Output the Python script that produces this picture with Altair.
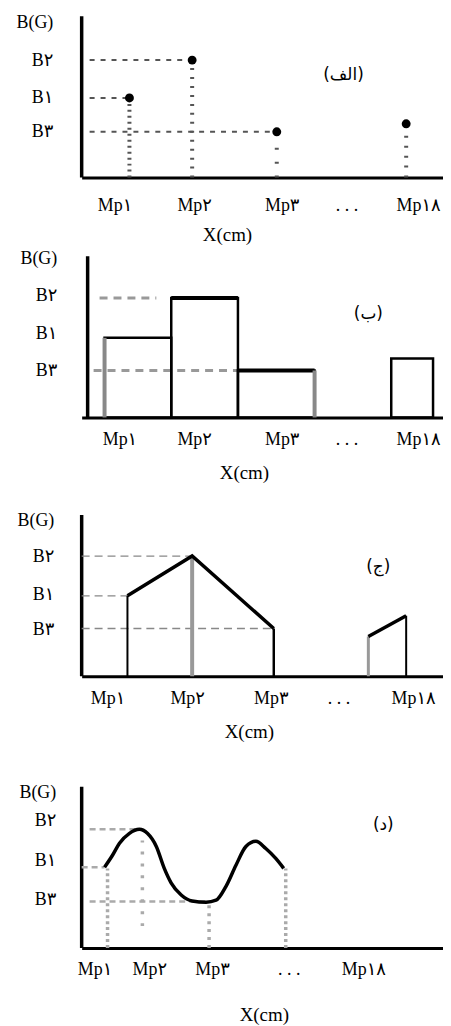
import json
import altair as alt
import pandas as pd

# ---------------- data ----------------
W = 363            # plot width (px)
PX = 10.0          # px per x unit
PY = 40.0          # px per y unit
XMAX = W / PX
heights = [168, 241, 260, 273]   # strip height of each panel (px)
AXIS_TOP = 4.05

FONT = "Liberation Serif, Times New Roman, DejaVu Sans, serif"
AFONT = "DejaVu Sans, Noto Sans, sans-serif"

y_tick_labels = ["B۳", "B۱", "B۲", "B(G)"]
y_tick_vals = [
    [1.15, 2.0, 2.95, 3.9],
    [1.18, 2.12, 3.05, 4.0],
    [1.18, 2.05, 3.0, 3.92],
    [1.22, 2.2, 3.2, 3.9],
]
y_label_pad = [29, 25, 28, 26]
x_tick_labels = ["Mp۱", "Mp۲", "Mp۳", ". . .", "Mp۱۸"]
x_tick_vals = [
    [3.3, 11.3, 20.1, 26.6, 33.8],
    [3.8, 11.3, 20.1, 26.6, 33.8],
    [2.6, 10.6, 19.0, 25.8, 33.3],
    [1.3, 6.8, 13.1, 20.8, 28.3],
]
x_label_pad = [19, 13, 13, 13]
x_title_x = [146, 163, 168, 183]
x_title_y = [57, 55, 56, 67]
yaxis_x = [0.0, 0.6, 0.0, 0.0]

panel_names = ["(الف)", "(ب)", "(ج)", "(د)"]
panel_name_x = [26.3, 28.8, 29.8, 30.3]
panel_name_y = [2.58, 2.6, 2.75, 3.1]

# panel 1 (الف): point measurements
p1_x = [4.8, 11.1, 19.6, 32.6]
p1_y = [2.0, 2.95, 1.15, 1.35]
p1_guide_from = [0.8, 0.8, 0.8]          # dashed guides for Mp1..Mp3
p1_dash = [[2, 4], [2, 7], [2, 12], [2, 8]]

# panel 2 (ب): bars
p2_x0 = [2.3, 9.0, 15.7, 31.1]
p2_x1 = [9.0, 15.7, 23.4, 35.3]
p2_top = [2.0, 3.0, 1.18, 1.48]
p2_guide_y = [3.0, 1.18]
p2_guide_x0 = [1.8, 1.2]
p2_guide_x1 = [7.5, 15.7]

# panel 3 (ج): polyline segments
p3_seg = [0, 0, 0, 1, 1]
p3_x = [4.6, 11.1, 19.3, 28.8, 32.6]
p3_y = [2.02, 3.02, 1.2, 1.0, 1.52]
p3_vcolor = ["black", "#999999", "black", "#999999", "black"]
p3_vwidth = [2, 4, 2.5, 3, 2]
p3_guide_y = [3.02, 2.02, 1.2]
p3_guide_x1 = [11.1, 4.6, 19.3]

# panel 4 (د): smooth curve
p4_x = [2.3, 3.1, 3.8, 4.8, 5.8, 6.6, 7.5, 8.3, 9.0, 10.0, 11.1, 12.5, 13.5,
        14.5, 15.5, 16.5, 17.5, 18.5, 19.5, 20.3]
p4_y = [2.03, 2.33, 2.63, 2.88, 2.98, 2.88, 2.55, 2.0, 1.63, 1.33, 1.18, 1.15,
        1.2, 1.55, 2.08, 2.55, 2.68, 2.5, 2.25, 2.0]
p4_guide_y = [2.98, 2.03, 1.17]
p4_guide_x0 = [0.8, 0.0, 0.8]
p4_guide_x1 = [5.8, 2.3, 12.8]
p4_vx = [2.6, 6.1, 12.8, 20.5]
p4_vy0 = [0.0, 0.55, 0.0, 0.0]
p4_vy1 = [2.0, 2.7, 1.15, 2.0]
p4_vdash = [[3, 3], [3, 9], [3, 5], [3, 3]]


def js(arr):
    return json.dumps(arr, ensure_ascii=False)


def xaxis(i):
    return alt.Axis(
        values=x_tick_vals[i],
        labelExpr=f"{js(x_tick_labels)}[indexof({js(x_tick_vals[i])}, datum.value)]",
        domain=True, domainColor="black", domainWidth=3,
        grid=False, ticks=False, tickSize=0,
        labelPadding=x_label_pad[i], labelFont=FONT, labelFontSize=18,
        labelColor="black", labelFlush=False, labelOverlap=False,
        title="X(cm)", titleFont=FONT, titleFontSize=19, titleFontWeight="normal",
        titleColor="black", titleX=x_title_x[i], titleY=x_title_y[i],
        titleBaseline="middle", titleAlign="center",
    )


def yaxis(i):
    return alt.Axis(
        values=y_tick_vals[i],
        labelExpr=f"{js(y_tick_labels)}[indexof({js(y_tick_vals[i])}, datum.value)]",
        domain=False, grid=False, ticks=False, tickSize=0,
        labelPadding=y_label_pad[i], labelFont=FONT, labelFontSize=18,
        labelColor="black", labelFlush=False, labelOverlap=False,
        labelAlign="right", labelBaseline="middle", title=None,
    )


def X(field, i):
    return alt.X(field, type="quantitative",
                 scale=alt.Scale(domain=[0, XMAX], nice=False, zero=False),
                 axis=xaxis(i))


def Y(field, i):
    return alt.Y(field, type="quantitative",
                 scale=alt.Scale(domain=[0, heights[i] / PY], nice=False, zero=False),
                 axis=yaxis(i))


def axis_line(i):
    df = pd.DataFrame({"x": [yaxis_x[i]], "y": [0.0], "y2": [AXIS_TOP]})
    return alt.Chart(df).mark_rule(color="black", strokeWidth=3.5).encode(
        x=X("x", i), y=Y("y", i), y2="y2:Q")


def name_layer(i):
    df = pd.DataFrame({"x": [panel_name_x[i]], "y": [panel_name_y[i]], "t": [panel_names[i]]})
    return alt.Chart(df).mark_text(font=AFONT, fontSize=17, color="black",
                                   align="center", baseline="middle").encode(
        x=X("x", i), y=Y("y", i), text="t:N")


def hrules(i, ys, x0s, x1s, color, width, dash=None):
    df = pd.DataFrame({"y": ys, "x": x0s, "x2": x1s})
    kw = dict(color=color, strokeWidth=width)
    if dash is not None:
        kw["strokeDash"] = dash
    return alt.Chart(df).mark_rule(**kw).encode(
        x=X("x", i), x2="x2:Q", y=Y("y", i))


def vrule(i, x, y0, y1, color, width, dash=None):
    df = pd.DataFrame({"x": [x], "y": [y0], "y2": [y1]})
    kw = dict(color=color, strokeWidth=width)
    if dash is not None:
        kw["strokeDash"] = dash
    return alt.Chart(df).mark_rule(**kw).encode(x=X("x", i), y=Y("y", i), y2="y2:Q")


# ---------- panel 1 ----------
i = 0
layers = [axis_line(i)]
layers.append(hrules(i, p1_y[:3], p1_guide_from, p1_x[:3], "#555555", 2, [5, 6]))
for k in range(4):
    layers.append(vrule(i, p1_x[k], 0, p1_y[k], "#555555", 4, p1_dash[k]))
pts = pd.DataFrame({"x": p1_x, "y": p1_y})
layers.append(alt.Chart(pts).mark_point(filled=True, color="black", size=80, opacity=1,
                                        shape="circle").encode(x=X("x", i), y=Y("y", i)))
layers.append(name_layer(i))
panel1 = alt.layer(*layers).properties(width=W, height=heights[i])

# ---------- panel 2 ----------
i = 1
layers = [axis_line(i)]
layers.append(hrules(i, p2_guide_y, p2_guide_x0, p2_guide_x1, "#999999", 3, [8, 6]))
bars = pd.DataFrame({"x": p2_x0, "x2": p2_x1, "y": [0.0] * 4, "y2": p2_top})
layers.append(alt.Chart(bars).mark_rect(fillOpacity=0, stroke="black", strokeWidth=2.5).encode(
    x=X("x", i), x2="x2:Q", y=Y("y", i), y2="y2:Q"))
layers.append(hrules(i, p2_top[1:3], p2_x0[1:3], p2_x1[1:3], "black", 4))
layers.append(vrule(i, p2_x0[0], 0, p2_top[0], "#888888", 4))
layers.append(vrule(i, p2_x1[2], 0, p2_top[2], "#888888", 4))
layers.append(name_layer(i))
panel2 = alt.layer(*layers).properties(width=W, height=heights[i])

# ---------- panel 3 ----------
i = 2
layers = [axis_line(i)]
layers.append(hrules(i, p3_guide_y, [0.0] * 3, p3_guide_x1, "#888888", 1.3, [8, 5]))
for k in range(5):
    layers.append(vrule(i, p3_x[k], 0, p3_y[k], p3_vcolor[k], p3_vwidth[k]))
ln = pd.DataFrame({"x": p3_x, "y": p3_y, "s": p3_seg})
layers.append(alt.Chart(ln).mark_line(color="black", strokeWidth=3.5).encode(
    x=X("x", i), y=Y("y", i), detail="s:N"))
layers.append(name_layer(i))
panel3 = alt.layer(*layers).properties(width=W, height=heights[i])

# ---------- panel 4 ----------
i = 3
layers = [axis_line(i)]
layers.append(hrules(i, p4_guide_y, p4_guide_x0, p4_guide_x1, "#aaaaaa", 2.5, [6, 4]))
for k in range(4):
    layers.append(vrule(i, p4_vx[k], p4_vy0[k], p4_vy1[k], "#aaaaaa", 3.5, p4_vdash[k]))
cv = pd.DataFrame({"x": p4_x, "y": p4_y})
layers.append(alt.Chart(cv).mark_line(color="black", strokeWidth=3.5, interpolate="monotone").encode(
    x=X("x", i), y=Y("y", i)))
layers.append(name_layer(i))
panel4 = alt.layer(*layers).properties(width=W, height=heights[i])

chart = alt.vconcat(panel1, panel2, panel3, panel4, spacing=0, bounds="flush").properties(
    padding={"left": 8, "top": 0, "right": 0, "bottom": 0}
).configure_view(stroke=None)

chart.save("out.html", embed_options={"renderer": "svg", "actions": False})
